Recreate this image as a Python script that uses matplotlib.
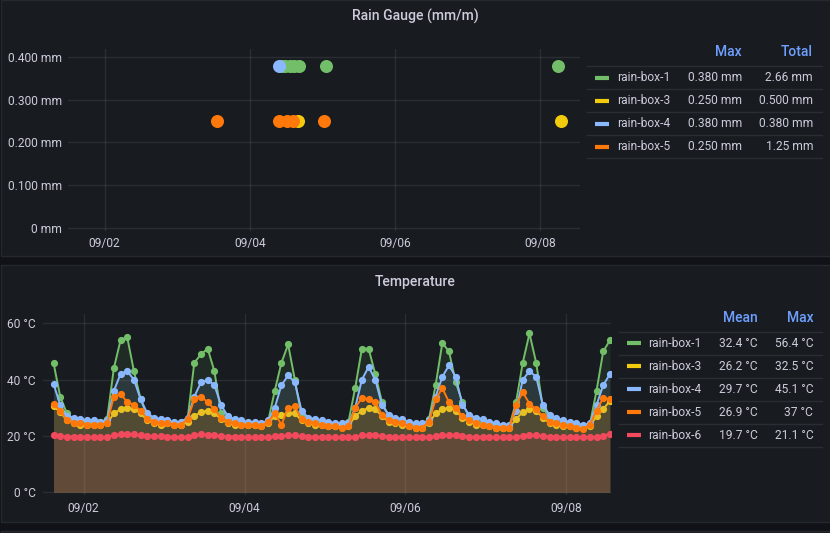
import pandas as pd
import matplotlib.pyplot as plt
import matplotlib.dates as mdates
from matplotlib.patches import Rectangle
from matplotlib.lines import Line2D
from matplotlib.ticker import FuncFormatter, MultipleLocator

# ----------------------------
# Data
# ----------------------------
SERIES_COLORS = {
    "rain-box-1": "#73BF69",
    "rain-box-3": "#F2CC0C",
    "rain-box-4": "#8AB8FF",
    "rain-box-5": "#FF780A",
    "rain-box-6": "#F2495C",
}

# rain gauge readings (mm per minute), one entry per tip
rain_box_1_times = ["2021-09-04 10:35", "2021-09-04 11:35", "2021-09-04 13:15",
                    "2021-09-04 14:35", "2021-09-04 16:13", "2021-09-05 01:03",
                    "2021-09-08 06:03"]
rain_box_1_mm = [0.38, 0.38, 0.38, 0.38, 0.38, 0.38, 0.38]
rain_box_3_times = ["2021-09-04 15:48", "2021-09-08 06:57"]
rain_box_3_mm = [0.25, 0.25]
rain_box_4_times = ["2021-09-04 09:42"]
rain_box_4_mm = [0.38]
rain_box_5_times = ["2021-09-03 13:00", "2021-09-04 09:42", "2021-09-04 12:10",
                    "2021-09-04 14:15", "2021-09-05 00:30"]
rain_box_5_mm = [0.25, 0.25, 0.25, 0.25, 0.25]

rain_legend_names = ["rain-box-1", "rain-box-3", "rain-box-4", "rain-box-5"]
rain_legend_max = ["0.380 mm", "0.250 mm", "0.380 mm", "0.250 mm"]
rain_legend_total = ["2.66 mm", "0.500 mm", "0.380 mm", "1.25 mm"]

# temperature, sampled every 2 hours from 09/01 15:00
temp_start = "2021-09-01 15:00"
temp_box_1 = [46, 34, 28, 26, 25.5,
              25, 25, 25, 26, 44, 54, 55, 43, 33, 27, 25.5, 25,
              24.5, 24.5, 24, 26, 46, 49, 51, 43, 28, 25.5, 25, 24.5,
              24.5, 24, 24, 25, 36, 46, 52.5, 40, 27, 25.5, 25, 24.5,
              24, 23.5, 23.5, 25, 37, 51, 51, 42, 32, 27, 25, 24.5,
              24, 23.5, 23.5, 26, 38, 53, 50, 39, 32, 26.5, 25, 24.5,
              24, 23.5, 23, 23.5, 32, 46, 56.4, 46, 30, 26.5, 25, 24.5,
              24, 23.5, 23, 24, 36, 50, 54]
temp_box_3 = [30.5, 28.5, 25.5, 24.5, 24,
              24, 24, 24, 24.5, 28, 29.5, 30, 29.5, 28, 25.5, 24.5, 24,
              24.5, 24, 24, 25, 27, 28.5, 29, 28, 26, 24.5, 24, 24,
              24, 24, 23.5, 24.5, 27, 27.5, 28, 28, 25.5, 24.5, 24, 24,
              23.5, 23.5, 23.5, 23.5, 27, 29, 30, 29.5, 27, 25, 24.5, 24,
              23.5, 23, 23, 24.5, 28, 29.5, 30, 29, 26.5, 25, 24, 24,
              23.5, 23, 23, 23, 26, 28.5, 29.5, 29, 26.5, 24.5, 24, 23.5,
              23.5, 23, 23, 23.5, 27, 29.5, 32.5]
temp_box_4 = [38.5, 31, 27, 26.5, 26,
              25.5, 25.5, 25, 25.5, 36, 42, 43, 40, 33, 28, 26.5, 26,
              25.5, 25, 25, 26.5, 34, 39, 40, 38, 31, 27, 26, 25.5,
              25, 25, 24.5, 25.5, 30, 38, 41.5, 39, 29, 26.5, 26, 25.5,
              25, 24.5, 24.5, 24.5, 30, 40, 44.5, 40, 31, 27.5, 26.5, 26,
              25, 24.5, 24.5, 25.5, 34, 41, 45.1, 41, 31, 27.5, 26.5, 26,
              25, 24.5, 24, 24, 29, 40, 43, 41, 31, 27.5, 26.5, 25.5,
              25, 24.5, 24, 24.5, 31, 38, 42]
temp_box_5 = [31.5, 29, 25.5, 24.5, 24.5,
              24, 24, 24, 24.5, 34, 35, 32, 31, 29, 26, 25, 24.5,
              24.5, 24, 24, 26, 33, 34, 32, 29.5, 26.5, 25, 24.5, 24,
              24, 24, 23.5, 25, 28, 24, 30, 30.5, 26, 25, 24.5, 24,
              23.5, 23.5, 23, 23.5, 30, 33.5, 33, 32, 27.5, 25.5, 25, 24.5,
              23.5, 23, 23, 25, 33, 37, 32, 30, 27, 25.5, 24.5, 24,
              23.5, 23, 23, 23, 31, 35.5, 31.5, 29.5, 27, 25, 24.5, 24,
              23.5, 23, 22.5, 24, 29, 33.5, 33]
temp_box_6 = [20.3, 20, 19.8, 19.8, 19.7,
              19.7, 19.6, 19.5, 19.6, 20.3, 20.6, 20.8, 20.6, 20.2, 20, 19.9, 19.9,
              19.8, 19.7, 19.6, 19.8, 20.3, 20.6, 20.5, 20.3, 20, 19.8, 19.8, 19.7,
              19.6, 19.5, 19.5, 19.6, 19.9, 20.1, 20.2, 20.2, 19.9, 19.8, 19.7, 19.7,
              19.6, 19.5, 19.5, 19.5, 19.8, 20.2, 20.3, 20.3, 20, 19.8, 19.7, 19.7,
              19.6, 19.5, 19.5, 19.6, 20, 20.3, 20.4, 20.3, 20, 19.8, 19.7, 19.7,
              19.6, 19.5, 19.5, 19.5, 19.8, 20.1, 20.3, 20.2, 20, 19.8, 19.7, 19.6,
              19.5, 19.5, 19.5, 19.5, 19.6, 20.1, 20.7]

temp_legend_names = ["rain-box-1", "rain-box-3", "rain-box-4", "rain-box-5", "rain-box-6"]
temp_legend_mean = ["32.4 °C", "26.2 °C", "29.7 °C", "26.9 °C", "19.7 °C"]
temp_legend_max = ["56.4 °C", "32.5 °C", "45.1 °C", "37 °C", "21.1 °C"]

X_RANGE = (pd.Timestamp("2021-09-01 11:52"), pd.Timestamp("2021-09-08 13:14"))

# ----------------------------
# Style
# ----------------------------
PAGE_BG = "#111217"
PANEL_BG = "#181b1f"
BORDER = "#25282d"
TEXT = "#ccccdc"
HEADER = "#6E9FFF"
SEP = "#2a2d33"
FS = 8.64       # 12px
TITLE_FS = 10.1  # 14px

plt.rcParams["font.family"] = ["Roboto", "DejaVu Sans"]

W, H = 830, 533
fig = plt.figure(figsize=(W / 100, H / 100), dpi=100, facecolor=PAGE_BG)


def fx(x):
    return x / W


def fy(y):
    return 1 - y / H


def panel(y0, y1):
    fig.patches.append(Rectangle((fx(0.5), fy(y1)), fx(829), (y1 - y0) / H,
                                 transform=fig.transFigure, fc=PANEL_BG,
                                 ec=BORDER, lw=1, zorder=-5))


def make_axes(x0, x1, y0, y1):
    ax = fig.add_axes([fx(x0), fy(y1), (x1 - x0) / W, (y1 - y0) / H])
    ax.set_zorder(2)
    ax.set_facecolor("none")
    for s in ax.spines.values():
        s.set_visible(False)
    ax.grid(True, color=TEXT, alpha=0.1, lw=1)
    ax.set_axisbelow(True)
    ax.tick_params(length=0, colors=TEXT, labelsize=FS)
    ax.set_xlim(*X_RANGE)
    ax.xaxis.set_major_locator(mdates.DayLocator(bymonthday=[2, 4, 6, 8]))
    ax.xaxis.set_major_formatter(mdates.DateFormatter("%m/%d"))
    return ax


def legend_table(headers, header_x, header_y, sep_x0, sep_x1, row_y0,
                 sw_x0, sw_x1, name_x, names, columns):
    for h, x in zip(headers, header_x):
        fig.text(fx(x), fy(header_y), h, ha="right", va="center",
                 fontsize=10, color=HEADER, fontweight="medium")
    n = len(names)
    for k in range(n + 1):
        y = row_y0 - 11.7 + 23 * k
        fig.lines.append(Line2D([fx(sep_x0), fx(sep_x1)], [fy(y), fy(y)],
                                transform=fig.transFigure, color=SEP, lw=1))
    for k, name in enumerate(names):
        y = row_y0 + 23 * k
        fig.lines.append(Line2D([fx(sw_x0), fx(sw_x1)], [fy(y), fy(y)],
                                transform=fig.transFigure,
                                color=SERIES_COLORS[name], lw=3,
                                solid_capstyle="butt"))
        fig.text(fx(name_x), fy(y), name, ha="left", va="center",
                 fontsize=FS, color=TEXT)
        for vals, x in zip(columns, header_x):
            fig.text(fx(x), fy(y), vals[k], ha="right", va="center",
                     fontsize=FS, color=TEXT)


panel(0, 256)
panel(265, 522)
panel(531, 600)

# ----------------------------
# Rain Gauge
# ----------------------------
fig.text(fx(415), fy(16), "Rain Gauge (mm/m)", ha="center", va="center",
         fontsize=TITLE_FS, color=TEXT, fontweight="medium")

ax1 = make_axes(68, 580, 48.5, 231)
ax1.set_ylim(-0.0082, 0.42)
ax1.yaxis.set_major_locator(MultipleLocator(0.1))
ax1.yaxis.set_major_formatter(
    FuncFormatter(lambda v, p: "0 mm" if abs(v) < 1e-9 else f"{v:.3f} mm"))
ax1.tick_params(axis="x", pad=4)
ax1.tick_params(axis="y", pad=4.5)

rain = [
    ("rain-box-1", rain_box_1_times, rain_box_1_mm),
    ("rain-box-3", rain_box_3_times, rain_box_3_mm),
    ("rain-box-4", rain_box_4_times, rain_box_4_mm),
    ("rain-box-5", rain_box_5_times, rain_box_5_mm),
]
for name, times, vals in rain:
    ax1.scatter(pd.to_datetime(times), vals, s=88, color=SERIES_COLORS[name],
                linewidths=0, zorder=3)

legend_table(["Max", "Total"], [742, 813], 52, 587, 822, 77.5,
             595, 609, 617, rain_legend_names,
             [rain_legend_max, rain_legend_total])

# ----------------------------
# Temperature
# ----------------------------
fig.text(fx(415), fy(282), "Temperature", ha="center", va="center",
         fontsize=TITLE_FS, color=TEXT, fontweight="medium")

ax2 = make_axes(43, 610.7, 314.3, 495)
ax2.set_ylim(-0.96, 63.2)
ax2.yaxis.set_major_locator(MultipleLocator(20))
ax2.yaxis.set_major_formatter(FuncFormatter(lambda v, p: f"{v:.0f} °C"))
ax2.tick_params(axis="x", pad=5)
ax2.tick_params(axis="y", pad=5)

t = pd.date_range(temp_start, periods=len(temp_box_1), freq="2h")
temps = [
    ("rain-box-1", temp_box_1),
    ("rain-box-3", temp_box_3),
    ("rain-box-4", temp_box_4),
    ("rain-box-5", temp_box_5),
    ("rain-box-6", temp_box_6),
]
for z, (name, vals) in enumerate(temps):
    c = SERIES_COLORS[name]
    ax2.fill_between(t, 0, vals, color=c, alpha=0.1, lw=0, zorder=2 + z)
    ax2.plot(t, vals, color=c, lw=1.4, marker="o", ms=5.2, mew=0, zorder=2 + z)

legend_table(["Mean", "Max"], [757.7, 813.3], 317.7, 619, 822, 343.3,
             627, 641, 648.5, temp_legend_names,
             [temp_legend_mean, temp_legend_max])

fig.savefig("out.png", dpi=100, facecolor=PAGE_BG)
